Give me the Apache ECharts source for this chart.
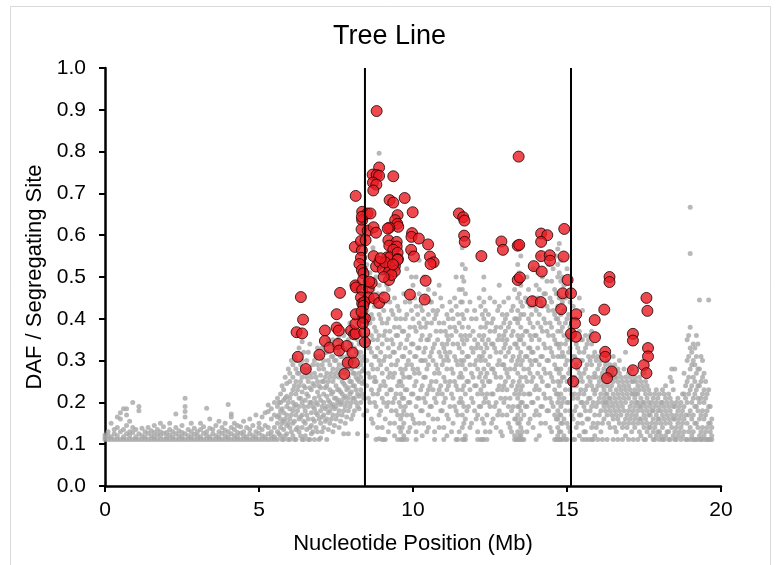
<!DOCTYPE html>
<html>
<head>
<meta charset="utf-8">
<script src="https://cdn.jsdelivr.net/npm/echarts@6/dist/echarts.min.js"></script>
<style>
html,body{margin:0;padding:0;background:#fff;}
#c{width:779px;height:565px;}
</style>
</head>
<body>
<div id="c"></div>
<script>
var chartTitle = "Tree Line";
var xAxisName = "Nucleotide Position (Mb)";
var yAxisName = "DAF / Segregating Site";
var xTicks = [0, 5, 10, 15, 20];
var yTicks = [0.0, 0.1, 0.2, 0.3, 0.4, 0.5, 0.6, 0.7, 0.8, 0.9, 1.0];
var vLines = [8.44, 15.13];

// gray points: each entry = [position, y1, y2, ...]
var grayCols = [
[0.0,.111,.116,.122],[0.1,.111,.12,.13],[0.2,.111,.118,.15],[0.3,.111,.125,.135],
[0.4,.111,.12,.14,.165],[0.5,.111,.13,.16,.175],[0.6,.111,.118,.135,.185],[0.7,.111,.125,.145,.185,.17],
[0.8,.111,.12,.13,.155],[0.9,.111,.128,.2,.14],[1.0,.111,.118,.135],[1.1,.111,.125,.19,.18],
[1.2,.111,.12,.138],[1.3,.111,.118,.13],[1.4,.111,.126,.14],[1.5,.111,.12,.132],
[1.6,.111,.117,.128,.145],[1.7,.111,.123,.135],[1.8,.111,.12,.13,.15],[1.9,.111,.126,.142],
[2.0,.111,.118,.128],[2.1,.111,.122,.135,.15],[2.2,.111,.118,.13],[2.3,.111,.125,.14,.172],
[2.4,.111,.12,.132],[2.5,.111,.118,.128,.145],[2.6,.111,.125,.21,.19,.178,.165],[2.7,.111,.12,.135],
[2.8,.111,.118,.13,.15],[2.9,.111,.124,.138],[3.0,.111,.12,.13],[3.1,.111,.118,.135,.15],
[3.2,.111,.126,.142],[3.3,.111,.12,.13,.186],[3.4,.111,.118,.138,.16],[3.5,.111,.125,.135],
[3.6,.111,.12,.145],[3.7,.111,.118,.13,.155],[3.8,.111,.126,.14],[3.9,.111,.12,.133,.15],
[4.0,.111,.118,.13,.195],[4.1,.111,.125,.14,.172,.165],[4.2,.111,.12,.135,.15],[4.3,.111,.118,.128,.145],
[4.4,.111,.126,.142],[4.5,.111,.12,.13,.155],[4.6,.111,.118,.14],[4.7,.111,.125,.135,.16],
[4.8,.111,.12,.145],[4.9,.111,.118,.13,.17],[5.0,.111,.126,.14,.15],[5.1,.111,.12,.135,.165],
[5.2,.111,.118,.145,.175],[5.3,.111,.125,.14,.194,.178],[5.4,.111,.12,.13,.16,.185],[5.5,.111,.118,.14,.17,.2],
[5.6,.111,.13,.15,.165,.19,.21],[5.7,.12,.14,.16,.18,.2,.22],[5.8,.111,.135,.155,.175,.205,.23],
[5.9,.125,.145,.17,.19,.215,.245],[6.0,.111,.14,.16,.185,.21,.25,.27],[6.1,.12,.15,.18,.2,.23,.26,.29],
[6.2,.111,.135,.17,.195,.22,.25,.28,.3],[6.3,.13,.16,.19,.21,.24,.27,.33],[6.4,.111,.14,.17,.2,.225,.26,.3,.345],
[6.5,.12,.15,.18,.205,.235,.27],[6.6,.111,.16,.19,.215,.25,.28,.32],[6.7,.125,.145,.175,.2,.23,.26],
[6.8,.111,.155,.185,.21,.24,.27,.3],[6.9,.13,.17,.195,.225,.25,.29,.33],[7.0,.115,.15,.18,.205,.235,.265,.31],
[7.1,.14,.17,.2,.22,.25,.28,.3],[7.2,.111,.16,.19,.215,.24,.27,.32],[7.3,.15,.18,.2,.23,.26,.29,.34],
[7.4,.13,.17,.195,.225,.25,.28,.31,.35],[7.5,.16,.19,.21,.24,.27,.3,.33],[7.6,.14,.18,.205,.23,.26,.29,.32,.36],
[7.7,.17,.2,.22,.25,.28,.31,.34],[7.8,.15,.19,.215,.24,.27,.3,.33,.37],[7.9,.125,.18,.21,.235,.26,.29,.32,.35],
[8.0,.16,.2,.225,.25,.28,.31,.34,.38],[8.1,.18,.21,.24,.27,.3,.33,.36,.4],[8.2,.125,.19,.22,.255,.285,.32,.35,.39],
[8.3,.2,.23,.26,.29,.32,.36,.42],[8.4,.17,.21,.25,.28,.31,.35,.4,.45],
[8.5,.12,.18,.24,.3,.36,.42,.48,.53],[8.6,.2,.26,.33,.39,.45,.51],[8.7,.15,.22,.28,.35,.4,.47,.57],
[8.8,.111,.19,.25,.31,.37,.43,.5],[8.9,.113,.17,.23,.3,.36,.41,.48,.796],[9.0,.111,.14,.21,.27,.34,.39,.46,.52],
[9.1,.111,.16,.24,.31,.37,.44],[9.2,.13,.2,.26,.33,.4,.47],[9.3,.18,.23,.29,.35,.42,.5],
[9.4,.12,.15,.21,.27,.32,.38,.45],[9.5,.111,.17,.24,.3,.36,.43],[9.6,.111,.13,.16,.19,.22,.25,.28,.34,.4],
[9.7,.111,.12,.15,.18,.21,.26,.31,.37,.46],[9.8,.111,.17,.23,.29,.35,.41,.52],[9.9,.14,.2,.26,.32,.38,.44,.56],
[10.0,.16,.22,.28,.34,.4,.48],[10.1,.111,.13,.19,.25,.31,.37,.43,.5],[10.2,.15,.21,.27,.33,.39,.46,.54],
[10.3,.12,.18,.24,.3,.36,.42],[10.4,.2,.26,.3,.33,.38,.45],[10.5,.14,.17,.23,.29,.35,.41,.47],
[10.6,.19,.25,.32,.39,.44],[10.7,.111,.13,.21,.27,.34,.4,.46],[10.8,.16,.22,.28,.35,.42],
[10.9,.18,.24,.31,.37,.45],[11.0,.111,.14,.2,.26,.3,.33,.39],[11.1,.12,.17,.23,.28,.31,.34,.36,.41],
[11.2,.19,.25,.32,.38,.44],[11.3,.15,.21,.27,.34,.4],[11.4,.111,.18,.24,.3,.37,.43,.5],
[11.5,.13,.2,.26,.33,.39,.47],[11.6,.111,.14,.17,.2,.23,.26,.29,.32,.35,.38,.41,.44,.47,.5,.53,.57],
[11.7,.111,.12,.16,.22,.28,.36,.46,.52],[11.8,.19,.25,.31,.38],[11.9,.15,.21,.27,.33,.4],
[12.0,.18,.24,.29,.35,.42],[12.1,.111,.13,.17,.22,.28,.34],[12.2,.111,.19,.23,.27,.3,.33,.38,.43],
[12.3,.111,.15,.2,.24,.28,.32,.36,.4,.44,.5,.47],[12.4,.111,.17,.22,.27,.33,.39],[12.5,.13,.19,.25,.31,.37,.45],
[12.6,.16,.22,.28,.34,.4],[12.7,.14,.2,.26,.32,.38],[12.8,.18,.24,.3,.36,.43,.48],
[12.9,.12,.17,.23,.29,.35,.41],[13.0,.21,.25,.28,.31,.34,.37,.4],[13.1,.15,.19,.26,.32,.38,.45],
[13.2,.13,.18,.24,.3,.36,.42],[13.3,.111,.12,.16,.22,.28,.34,.4,.47],
[13.4,.111,.13,.15,.17,.19,.21,.24,.27,.3,.33,.36,.39,.42,.45,.49,.53],
[13.5,.111,.12,.14,.16,.18,.2,.23,.26,.29,.32,.35,.38,.41,.44,.48,.55],
[13.6,.111,.17,.22,.28,.34,.41],[13.7,.13,.19,.25,.31,.37,.44,.5],[13.8,.16,.22,.27,.3,.33,.36,.39,.43],
[13.9,.14,.2,.26,.32,.38,.45,.52],[14.0,.111,.18,.24,.3,.36,.42,.48],[14.1,.12,.17,.23,.29,.35,.41,.47,.55],
[14.2,.19,.25,.31,.37,.43,.5],[14.3,.15,.21,.27,.33,.39,.46],[14.4,.18,.24,.3,.36,.42,.53],
[14.5,.13,.2,.26,.32,.38,.44,.49],[14.6,.111,.17,.23,.29,.35,.41,.47],
[14.7,.111,.12,.14,.16,.18,.2,.22,.25,.28,.31,.34,.37,.4,.43,.46,.5,.53,.567],
[14.8,.111,.13,.15,.17,.19,.22,.25,.28,.31,.34,.37,.41,.45,.49,.54],
[14.9,.12,.16,.21,.26,.31,.36,.42,.48],[15.0,.111,.15,.2,.25,.3,.35,.4,.46,.52],
[15.1,.13,.18,.23,.28,.33,.38,.44],[15.2,.111,.16,.21,.26,.31,.37,.43],
[15.3,.14,.19,.24,.29,.34,.4],[15.4,.12,.17,.22,.27,.32,.37,.45],[15.5,.111,.15,.2,.25,.3,.35,.42],
[15.6,.111,.13,.18,.23,.28,.33,.36],[15.7,.111,.16,.21,.26,.31,.35],[15.8,.111,.14,.19,.24,.29,.34,.37],
[15.9,.12,.17,.22,.27,.32],[16.0,.111,.15,.2,.24,.28,.31],[16.1,.13,.18,.22,.26,.3],
[16.2,.16,.19,.21,.23,.25,.28],[16.3,.111,.17,.2,.22,.24,.27,.3],[16.4,.14,.18,.21,.23,.26,.29],
[16.5,.111,.16,.19,.22,.25,.28,.31],[16.6,.13,.17,.2,.23,.26],[16.7,.15,.18,.21,.24,.27,.3],
[16.8,.111,.14,.19,.22,.25],[16.9,.12,.16,.2,.23,.26,.32],[17.0,.111,.15,.18,.21,.24,.27],
[17.1,.13,.17,.2,.22,.25,.28],[17.2,.14,.16,.19,.21,.23,.26],[17.3,.111,.15,.18,.2,.22,.24],
[17.4,.12,.16,.19,.21,.25],[17.5,.111,.14,.17,.2,.23,.27],[17.6,.13,.15,.18,.21,.24],
[17.7,.12,.14,.17,.19,.22],[17.8,.111,.13,.16,.18,.21],[17.9,.12,.15,.17,.2,.23],
[18.0,.111,.13,.16,.19,.22],[18.1,.111,.14,.17,.2,.23],[18.2,.12,.15,.18,.21,.24],
[18.3,.111,.13,.16,.19,.22],[18.4,.14,.17,.2,.25,.28],[18.5,.111,.13,.16,.19,.28],
[18.6,.12,.15,.18,.21],[18.7,.111,.14,.17,.2],[18.8,.13,.16,.19,.22,.27],
[18.9,.111,.15,.2,.25,.3,.35],[19.0,.111,.14,.18,.23,.28,.33,.38,.556,.667],
[19.1,.111,.13,.17,.21,.26,.3,.34],[19.2,.111,.15,.19,.23,.27,.31,.36],
[19.3,.111,.12,.16,.2,.24,.28,.445],[19.4,.111,.14,.18,.22,.26,.3],
[19.5,.111,.13,.17,.21,.25],[19.6,.111,.15,.19,.23,.445],[19.7,.111,.12,.14,.16]
];

// more gray points between the columns above: [position, y1, y2, ...]
var grayCols2 = [
[5.65,.125,.17,.2],[5.75,.111,.15,.185,.24],[5.85,.12,.16,.21,.26],[5.95,.111,.15,.2,.28],
[6.05,.13,.17,.22,.3],[6.15,.111,.155,.19,.24,.31],[6.25,.14,.18,.23,.27,.36],[6.35,.12,.165,.21,.25,.29],
[6.45,.111,.155,.19,.24,.28,.32],[6.55,.135,.17,.22,.26,.3],[6.65,.111,.14,.2,.235,.27,.34],
[6.75,.13,.16,.19,.245,.29],[6.85,.14,.175,.2,.26,.31],[6.95,.111,.16,.215,.24,.28],
[7.05,.13,.165,.19,.25,.29,.33],[7.15,.155,.185,.235,.26,.32],[7.25,.135,.175,.205,.25,.3,.35],
[7.35,.16,.19,.22,.27,.31],[7.45,.145,.185,.21,.26,.3,.33],[7.55,.17,.2,.23,.28,.35],
[7.65,.155,.195,.225,.27,.31,.34],[7.75,.125,.18,.21,.245,.29,.36],[7.85,.165,.2,.23,.28,.31],
[7.95,.19,.22,.25,.3,.34,.39],[8.05,.17,.21,.24,.27,.3,.36],[8.15,.2,.23,.26,.29,.32,.37],
[8.25,.185,.215,.25,.27,.31,.34,.41],[8.35,.22,.245,.275,.3,.34,.38],
[8.55,.21,.27,.33,.345,.39,.44],[8.65,.16,.23,.29,.32,.36,.41],[8.75,.2,.25,.26,.31,.38,.43],
[8.85,.14,.22,.28,.33,.35,.46],[8.95,.18,.24,.29,.32,.4,.43],[9.05,.111,.2,.25,.3,.36,.42],
[9.15,.19,.22,.28,.35,.39,.48],[9.25,.15,.23,.27,.31,.37,.44],[9.35,.2,.26,.32,.34,.41],
[9.45,.18,.22,.29,.36,.4],[9.55,.14,.2,.25,.33,.38,.42],[9.65,.111,.14,.17,.21,.24,.27,.31,.37],
[9.75,.19,.23,.28,.33,.4,.44],[9.85,.13,.2,.26,.3,.36],[9.95,.17,.22,.29,.34,.42,.5],
[10.05,.15,.24,.27,.31,.38,.45],[10.15,.21,.28,.33,.41],[10.25,.18,.23,.3,.35,.38,.43],
[10.35,.15,.21,.26,.32,.4,.5],[10.45,.13,.22,.28,.35,.39],[10.55,.19,.24,.31,.36,.44],
[10.65,.16,.23,.3,.33,.42],[10.75,.2,.25,.29,.37,.41],[10.85,.14,.23,.27,.32,.39,.48],
[10.95,.18,.22,.29,.34,.43],[11.05,.21,.25,.32,.37],[11.15,.16,.24,.3,.35,.4],
[11.25,.13,.22,.28,.36,.42],[11.35,.19,.25,.31,.38,.45],[11.45,.111,.17,.23,.29,.34,.41],
[11.55,.21,.27,.3,.36,.44],[11.65,.111,.15,.19,.24,.3,.34,.4,.49],[11.75,.18,.25,.31,.35,.42],
[11.85,.14,.23,.29,.36,.44],[11.95,.2,.26,.32,.37],[12.05,.16,.24,.3,.33,.4],
[12.15,.19,.26,.31,.36,.45],[12.25,.111,.16,.22,.25,.31,.35,.41],[12.35,.13,.21,.26,.3,.34,.38,.42],
[12.45,.2,.25,.29,.35,.41],[12.55,.15,.22,.28,.34,.39],[12.65,.19,.27,.33,.37,.44],
[12.75,.17,.23,.29,.35,.42],[12.85,.13,.21,.26,.32,.38],[12.95,.2,.24,.29,.33,.36,.39,.44],
[13.05,.17,.23,.27,.35,.41],[13.15,.14,.21,.28,.33,.39],[13.25,.19,.25,.31,.37,.43],
[13.35,.111,.16,.23,.29,.34,.4],[13.45,.111,.12,.15,.19,.22,.25,.31,.35,.4,.46,.51],
[13.55,.111,.13,.2,.24,.3,.36,.43],[13.65,.19,.26,.31,.37,.45],[13.75,.15,.22,.28,.33,.4,.47],
[13.85,.2,.25,.29,.32,.35,.41],[13.95,.17,.23,.3,.36,.43],[14.05,.21,.27,.33,.39,.45,.51],
[14.15,.15,.19,.26,.31,.38,.44],[14.25,.22,.28,.34,.4,.46],[14.35,.18,.24,.3,.37,.43,.49],
[14.45,.14,.21,.27,.33,.39,.45],[14.55,.19,.25,.31,.36,.42,.52],[14.65,.111,.16,.22,.28,.34,.4,.46,.55],
[14.75,.111,.13,.17,.21,.24,.27,.33,.39,.45,.51,.58],[14.85,.111,.15,.2,.26,.32,.38,.44,.5],
[14.95,.111,.18,.23,.29,.34,.39,.45],[15.05,.14,.2,.27,.32,.36,.41],[15.15,.17,.22,.25,.3,.35,.4],
[15.25,.111,.18,.22,.26,.31,.36],[15.35,.15,.21,.25,.28,.33],[15.45,.17,.2,.23,.26,.3,.35],
[15.55,.13,.19,.22,.27,.32],[15.65,.16,.2,.24,.29,.34],[15.75,.18,.21,.25,.3,.36],
[15.85,.111,.15,.2,.23,.26,.31],[15.95,.14,.19,.23,.26,.3],[16.05,.17,.21,.25,.29],
[16.15,.111,.15,.2,.24,.27],[16.25,.18,.2,.22,.26,.29],[16.35,.15,.19,.21,.25,.28],
[16.45,.17,.2,.24,.27],[16.55,.14,.18,.21,.26,.29],[16.65,.111,.16,.19,.22,.25,.28],
[16.75,.17,.2,.23,.26],[16.85,.15,.18,.21,.24,.28],[16.95,.14,.17,.22,.25],
[17.05,.16,.19,.23,.26],[17.15,.111,.15,.18,.22,.25],[17.25,.17,.2,.22,.25],
[17.35,.13,.16,.19,.23,.26],[17.45,.15,.18,.2,.24],[17.55,.111,.16,.19,.22,.25],
[17.65,.14,.17,.2,.23],[17.75,.15,.18,.2],[17.85,.111,.14,.19,.22],
[17.95,.13,.16,.18,.21],[18.05,.12,.15,.18,.2],[18.15,.111,.16,.19,.22],
[18.25,.13,.17,.2],[18.35,.111,.15,.18,.21,.26],[18.45,.12,.16,.19,.23],
[18.55,.111,.14,.17,.2],[18.65,.13,.16,.19],[18.75,.12,.15,.18,.22],
[18.85,.111,.17,.21,.24],[18.95,.13,.17,.22,.26,.31,.36],[19.05,.12,.16,.2,.24,.29,.32],
[19.15,.111,.15,.19,.22,.25,.29,.33],[19.25,.14,.18,.21,.24,.28,.34],[19.35,.111,.13,.17,.21,.25,.31],
[19.45,.12,.16,.2,.23,.27],[19.55,.111,.14,.18,.22],[19.65,.111,.13,.15,.19]
];

// red (highlighted) points: [position, y]
var redPoints = [
[6.36,0.452],[6.43,0.398],[6.22,0.368],[6.40,0.365],[6.26,0.309],[6.52,0.28],
[6.96,0.314],[7.14,0.372],[7.14,0.347],[7.29,0.331],[7.52,0.379],[7.59,0.372],[7.52,0.411],
[7.63,0.462],[7.57,0.34],[7.60,0.324],[7.85,0.335],[7.77,0.268],[7.88,0.295],[8.08,0.295],
[8.04,0.319],[7.99,0.372],[8.09,0.363],[8.14,0.365],[8.13,0.388],[8.14,0.411],[8.13,0.48],
[8.15,0.475],[8.11,0.572],[8.14,0.694],
[8.35,0.656],[8.52,0.652],[8.35,0.636],[8.34,0.644],[8.33,0.614],[8.53,0.611],[8.31,0.586],
[8.46,0.588],[8.34,0.564],[8.31,0.546],[8.26,0.531],[8.34,0.517],[8.39,0.509],[8.38,0.493],
[8.35,0.469],[8.56,0.473],[8.31,0.451],[8.56,0.451],[8.35,0.437],[8.42,0.44],[8.39,0.431],
[8.39,0.403],[8.44,0.401],[8.42,0.368],[8.44,0.344],[8.33,0.417],[8.37,0.389],
[8.82,0.897],[8.90,0.762],[8.69,0.745],[8.82,0.744],[8.90,0.742],[8.70,0.726],[8.81,0.721],
[8.71,0.707],[9.36,0.741],[9.24,0.684],[9.36,0.678],[9.73,0.689],[9.99,0.655],[9.50,0.648],
[9.42,0.636],[9.49,0.627],[9.52,0.62],[9.23,0.618],[9.18,0.616],[8.72,0.619],[8.80,0.606],
[8.62,0.652],[9.97,0.605],[9.95,0.596],[10.19,0.592],[9.20,0.588],[9.47,0.584],[9.23,0.575],
[9.47,0.573],[9.36,0.565],[10.49,0.578],[8.72,0.55],[9.16,0.547],[9.25,0.547],[9.50,0.558],
[9.51,0.543],[9.94,0.565],[10.03,0.549],[10.55,0.549],[10.67,0.535],[10.57,0.531],[8.80,0.525],
[8.91,0.536],[9.02,0.518],[9.25,0.526],[9.41,0.526],[9.50,0.541],[9.23,0.514],[9.41,0.514],
[9.22,0.493],[8.66,0.486],[8.58,0.489],[10.41,0.491],[8.74,0.449],[8.90,0.438],[9.07,0.451],
[9.90,0.458],[10.38,0.446],[9.10,0.535],[9.30,0.505],[9.05,0.50],[8.95,0.545],[9.35,0.53],
[11.49,0.652],[11.63,0.643],[11.67,0.635],[11.66,0.599],[11.68,0.584],[12.22,0.55],[12.87,0.585],
[12.92,0.565],[13.43,0.788],[13.40,0.575],[13.45,0.577],[13.40,0.493],[13.47,0.499],[14.16,0.604],
[14.36,0.60],[14.16,0.584],[14.16,0.55],[14.44,0.552],[14.45,0.539],[13.92,0.526],[14.18,0.513],
[13.87,0.442],[14.15,0.44],[14.91,0.615],[14.89,0.549],[15.02,0.493],[14.86,0.461],[15.13,0.461],
[14.81,0.423],[15.30,0.411],[15.26,0.389],[15.13,0.364],[15.29,0.357],[15.30,0.293],[15.20,0.25],
[16.38,0.50],[16.38,0.488],[16.21,0.422],[15.90,0.397],[15.91,0.356],[16.24,0.321],[16.24,0.309],
[16.45,0.274],[16.30,0.258],[17.14,0.364],[17.14,0.348],[17.14,0.277],[17.58,0.45],[17.61,0.419],
[17.63,0.33],[17.63,0.31],[17.49,0.289],[17.58,0.27]
];

var grayData = [];
grayCols.concat(grayCols2).forEach(function (col) {
  for (var i = 1; i < col.length; i++) grayData.push([col[0], col[i]]);
});
var lineSeries = vLines.map(function (v) {
  return {
    type: 'line', data: [[v, yTicks[0]], [v, yTicks[yTicks.length - 1]]],
    symbol: 'none', lineStyle: { color: '#000', width: 2 }, z: 10, silent: true, animation: false
  };
});

var chart = echarts.init(document.getElementById('c'), null, { renderer: 'canvas' });
var font = '"Liberation Sans", Arial, sans-serif';
chart.setOption({
  animation: false,
  backgroundColor: '#fff',
  graphic: [{
    type: 'rect', shape: { x: 10.5, y: 6.5, width: 760, height: 570 },
    style: { fill: 'none', stroke: '#d9d9d9', lineWidth: 1 }, silent: true, z: -1
  }],
  title: {
    text: chartTitle, left: 'center', top: 18,
    textStyle: { fontFamily: font, fontSize: 27, fontWeight: 'normal', color: '#000' }
  },
  grid: { left: 105, right: 58, top: 68, bottom: 79 },
  xAxis: {
    type: 'value', min: xTicks[0], max: xTicks[xTicks.length - 1], interval: 5,
    name: xAxisName, nameLocation: 'middle', nameGap: 47,
    nameTextStyle: { fontFamily: font, fontSize: 22, color: '#000' },
    axisLine: { show: true, onZero: false, lineStyle: { color: '#000', width: 2.5 } },
    axisTick: { show: true, inside: false, length: 6, lineStyle: { color: '#000', width: 2 } },
    axisLabel: { fontFamily: font, fontSize: 21, color: '#000', margin: 14 },
    splitLine: { show: false }
  },
  yAxis: {
    type: 'value', min: 0, max: 1, interval: 0.1,
    name: yAxisName, nameLocation: 'middle', nameGap: 56, nameRotate: 90,
    nameTextStyle: { fontFamily: font, fontSize: 22, color: '#000' },
    axisLine: { show: true, onZero: false, lineStyle: { color: '#000', width: 2.5 } },
    axisTick: { show: true, inside: false, length: 6, lineStyle: { color: '#000', width: 2 } },
    axisLabel: { fontFamily: font, fontSize: 21, color: '#000', margin: 19,
      formatter: function (v) { return v.toFixed(1); } },
    splitLine: { show: false }
  },
  series: [
    { type: 'scatter', data: grayData, symbolSize: 5, itemStyle: { color: '#a6a6a6' }, z: 2, silent: true },
    { type: 'scatter', data: redPoints, symbolSize: 11,
      itemStyle: { color: '#ea1b23', borderColor: '#1a0000', borderWidth: 1 }, z: 3, silent: true }
  ].concat(lineSeries)
});
</script>
</body>
</html>
